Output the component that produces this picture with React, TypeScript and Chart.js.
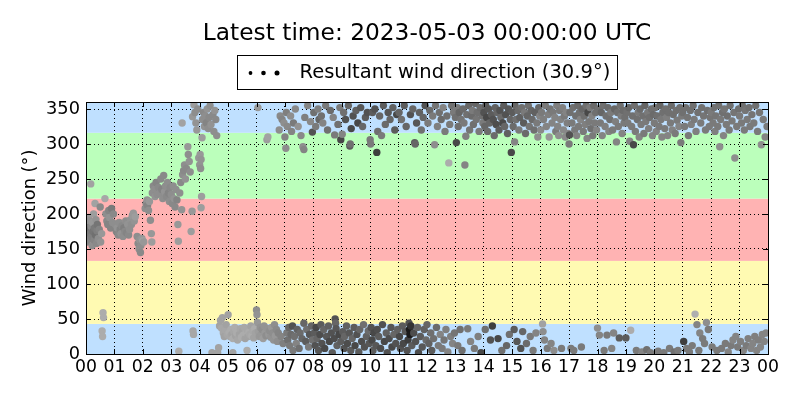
import React, { useEffect, useRef } from "react";
import { Chart, registerables } from "chart.js";

Chart.register(...registerables);

// Each point: [minute within hour, wind direction (deg), grey level of marker]
type P = [number, number, number];

const h00: P[] = [[1,175,130],[2,160,120],[3,185,110],[4,170,125],[5,195,140],[6,178,100],[7,165,120],[8,190,135],[9,172,110],[10,243,150],[11,182,125],[12,168,115],[13,155,130],[14,188,140],[15,175,105],[16,200,145],[17,163,120],[18,180,110],[19,215,150],[20,170,100],[21,192,135],[22,158,125],[23,176,115],[24,185,105],[26,165,130],[28,178,120],[30,210,125],[31,160,135],[33,172,140],[34,33,160],[35,25,160],[36,59,160],[37,52,160],[40,222,155],[42,200,130],[44,190,125],[46,185,120],[48,205,120],[50,195,135],[52,180,120],[54,208,110],[56,188,130],[58,200,125]];
const h01: P[] = [[2,185,130],[4,175,120],[6,180,135],[8,170,125],[10,188,130],[12,178,120],[14,172,135],[16,183,125],[18,168,130],[20,180,115],[22,175,125],[24,190,130],[26,173,120],[28,185,135],[30,170,125],[32,178,130],[34,192,135],[36,185,130],[38,198,140],[40,201,140],[42,190,135],[44,196,145],[48,168,130],[50,158,125],[52,150,130],[53,163,135],[55,145,125],[56,155,130],[58,165,140]];
const h02: P[] = [[0,162,150],[2,160,140],[5,208,130],[7,215,125],[9,220,135],[10,212,120],[12,205,130],[14,218,140],[16,191,130],[18,172,140],[19,160,145],[20,230,130],[22,240,125],[24,235,130],[26,225,135],[28,245,120],[30,228,130],[33,238,125],[36,230,130],[38,250,125],[40,235,120],[42,222,130],[44,255,125],[46,232,135],[48,240,130],[50,225,125],[52,245,130],[54,230,120],[56,218,130],[58,238,125]];
const h03: P[] = [[0,228,130],[2,215,125],[4,240,130],[6,222,135],[8,210,125],[10,235,130],[12,220,120],[14,185,140],[15,161,145],[16,4,160],[18,230,130],[20,245,125],[22,206,135],[23,330,150],[24,256,130],[26,262,125],[28,270,130],[30,250,135],[32,265,125],[35,296,140],[36,285,130],[38,275,135],[40,260,130],[42,175,145],[44,204,140],[45,339,140],[46,33,155],[47,28,155],[48,356,145],[50,345,130],[52,330,135],[54,320,140],[56,350,130],[58,280,140]];
const h04: P[] = [[0,270,135],[1,285,140],[2,265,130],[3,278,135],[3,209,145],[4,225,145],[5,309,145],[6,335,130],[8,345,125],[10,325,135],[12,340,130],[14,330,120],[16,350,135],[18,322,130],[20,338,125],[22,355,130],[24,328,135],[26,2,150],[28,342,125],[30,318,130],[32,348,135],[34,335,125],[36,312,130],[38,2,150],[40,9,150],[42,40,150],[44,48,150],[46,37,155],[48,52,150],[50,30,155],[52,25,150],[54,35,155],[56,42,150],[58,28,155]];
const h05: P[] = [[0,56,150],[2,30,160],[4,25,155],[6,35,160],[8,28,150],[10,22,160],[12,32,155],[14,38,160],[16,26,150],[18,30,160],[20,20,155],[22,34,160],[24,28,150],[26,36,155],[28,24,160],[30,32,150],[32,27,160],[34,38,155],[36,22,150],[38,30,160],[40,35,155],[42,25,150],[44,31,160],[46,28,155],[48,40,150],[50,26,160],[52,33,155],[54,23,150],[56,36,160],[58,30,150],[10,2,150],[40,5,160]];
const h06: P[] = [[0,63,130],[1,56,135],[2,45,140],[3,352,140],[4,32,145],[6,25,140],[8,38,135],[10,28,140],[12,35,130],[14,22,145],[16,40,135],[18,30,140],[20,26,130],[22,306,145],[24,310,150],[24,36,135],[26,28,140],[28,33,130],[30,24,135],[32,38,140],[34,30,130],[36,20,135],[38,42,130],[40,26,140],[42,35,125],[44,18,130],[46,30,120],[48,320,130],[50,340,125],[52,25,120],[54,335,120],[56,15,115],[58,330,130]];
const h07: P[] = [[0,310,120],[2,294,130],[3,345,115],[4,30,110],[5,325,125],[6,20,100],[8,38,90],[10,12,110],[12,340,130],[13,28,95],[14,318,120],[16,40,70],[17,5,110],[18,330,110],[20,25,100],[22,350,125],[24,15,120],[26,35,85],[28,325,135],[30,8,100],[32,30,95],[34,312,125],[36,22,90],[38,296,130],[40,292,120],[40,44,90],[42,338,115],[44,18,80],[46,35,100],[48,355,120],[50,10,110],[52,28,75],[54,332,125],[56,40,90],[58,317,70],[58,20,100]];
const h08: P[] = [[1,345,100],[2,30,80],[4,12,70],[5,325,110],[6,38,60],[8,22,90],[10,350,115],[11,5,75],[12,335,90],[14,28,65],[16,42,80],[17,340,100],[18,15,70],[20,330,120],[22,35,90],[24,8,60],[26,355,110],[28,25,75],[30,320,100],[32,40,85],[34,18,60],[36,348,95],[38,30,70],[40,2,80],[42,338,120],[44,22,65],[45,313,110],[46,50,70],[47,44,90],[48,36,75],[50,12,85],[52,328,100],[54,28,60],[56,352,110],[58,306,60],[58,18,80]];
const h09: P[] = [[1,314,120],[2,32,80],[4,345,100],[5,8,70],[6,25,90],[8,335,70],[10,40,85],[12,15,65],[14,355,90],[16,30,75],[17,297,80],[18,300,100],[19,5,80],[20,322,60],[22,22,90],[24,340,70],[26,38,80],[28,12,60],[30,348,85],[32,28,70],[34,330,60],[36,3,80],[38,35,90],[40,352,75],[42,18,65],[44,325,90],[46,42,100],[48,10,70],[50,338,80],[52,25,85],[54,345,70],[56,33,95],[58,15,75]];
const h10: P[] = [[0,306,110],[1,300,110],[2,38,70],[4,20,60],[5,345,80],[6,5,80],[8,30,60],[10,350,70],[12,12,75],[14,288,50],[15,35,65],[16,318,100],[18,25,80],[20,340,90],[22,8,65],[24,312,110],[26,42,70],[28,355,80],[30,18,60],[32,328,95],[34,30,85],[36,2,70],[38,345,75],[40,22,65],[42,335,90],[44,38,75],[46,10,60],[48,352,85],[50,28,90],[52,320,80],[54,15,70],[56,342,60],[58,35,85]];
const h11: P[] = [[1,345,90],[2,25,60],[4,8,70],[6,335,100],[8,40,80],[10,15,60],[12,355,80],[14,32,75],[16,325,90],[18,5,70],[20,20,50],[22,44,70],[23,35,15],[24,28,15],[25,342,70],[26,40,40],[28,12,80],[30,350,90],[32,30,65],[34,302,80],[35,300,90],[36,18,70],[38,330,75],[40,38,90],[42,2,65],[44,345,85],[46,25,80],[48,320,100],[50,10,75],[52,338,90],[54,35,85],[56,355,70],[58,20,95]];
const h12: P[] = [[0,42,90],[2,330,110],[4,15,85],[6,348,95],[8,30,100],[10,5,80],[12,340,110],[14,22,100],[16,299,130],[18,355,105],[20,38,95],[22,325,115],[24,12,110],[26,345,100],[28,28,120],[30,335,95],[32,8,110],[34,352,120],[36,20,105],[38,318,110],[40,35,115],[42,340,100],[44,3,120],[46,273,160],[48,328,110],[50,25,115],[52,355,100],[54,15,120],[56,345,110],[58,30,105]];
const h13: P[] = [[0,338,100],[2,302,60],[4,352,110],[5,12,110],[6,325,100],[8,345,90],[10,35,100],[12,335,105],[14,5,100],[16,350,95],[18,330,110],[20,270,120],[22,311,115],[24,342,100],[26,36,110],[28,355,90],[30,320,105],[32,18,120],[34,340,95],[36,348,110],[38,328,100],[40,8,110],[42,358,90],[44,335,105],[46,345,100],[48,25,115],[50,318,110],[52,352,95],[54,2,60],[56,340,100],[58,330,110]];
const h14: P[] = [[0,345,70],[2,325,90],[3,35,100],[4,355,80],[6,338,60],[8,318,95],[10,350,75],[12,330,90],[14,20,70],[16,342,80],[18,40,50],[20,335,70],[22,312,95],[24,352,85],[26,328,65],[28,345,90],[30,22,60],[32,320,80],[34,348,70],[36,338,95],[38,5,100],[40,330,60],[42,355,80],[44,325,90],[46,342,70],[48,12,90],[50,315,85],[52,350,75],[54,28,100],[56,335,90],[58,288,60]];
const h15: P[] = [[0,345,80],[2,325,95],[4,35,80],[5,303,120],[6,355,90],[8,335,100],[10,18,75],[12,348,95],[14,320,110],[16,338,85],[18,8,70],[20,352,100],[22,32,90],[24,330,80],[26,345,110],[28,315,95],[30,15,95],[32,340,90],[34,355,100],[36,325,105],[38,25,110],[40,348,90],[42,335,95],[44,5,110],[46,320,100],[48,345,85],[50,30,120],[52,330,110],[54,310,130],[56,352,90],[58,340,120]];
const h16: P[] = [[0,320,125],[2,345,110],[4,43,150],[5,32,130],[6,335,115],[8,20,120],[10,355,110],[12,325,120],[14,8,110],[16,342,115],[18,310,140],[20,350,105],[22,15,120],[24,330,120],[26,345,110],[28,5,130],[30,338,120],[32,318,110],[34,355,115],[36,325,120],[38,312,130],[40,348,110],[42,335,120],[44,8,110],[46,352,115],[48,320,125],[50,340,110],[52,310,125],[54,345,120],[56,330,115],[58,315,125]];
const h17: P[] = [[0,300,110],[1,313,70],[2,345,100],[4,8,110],[6,330,110],[8,352,100],[10,5,110],[12,320,110],[14,340,100],[16,312,120],[18,355,95],[20,325,110],[22,345,100],[24,335,120],[26,10,110],[28,350,90],[30,318,110],[32,340,100],[34,328,115],[36,355,100],[38,308,120],[40,345,60],[42,332,110],[44,352,110],[46,322,100],[48,340,120],[50,312,110],[52,355,95],[54,330,110],[56,345,100],[58,320,120]];
const h18: P[] = [[0,37,130],[2,350,100],[4,27,120],[6,330,110],[8,345,90],[10,312,120],[12,355,100],[14,5,110],[16,325,115],[18,340,100],[20,27,110],[22,352,95],[24,318,120],[26,335,100],[28,345,110],[30,8,120],[32,320,110],[34,30,120],[36,350,90],[38,332,115],[40,303,120],[42,345,100],[44,325,110],[46,23,80],[48,355,100],[50,340,110],[52,315,120],[54,348,95],[56,330,110],[58,338,100]];
const h19: P[] = [[0,23,80],[2,345,100],[4,330,110],[6,352,90],[8,304,120],[10,34,160],[12,325,110],[14,340,100],[16,299,60],[18,355,100],[20,318,110],[22,5,110],[24,335,100],[26,345,110],[28,310,120],[30,350,95],[32,328,110],[34,3,120],[36,340,100],[38,315,110],[40,355,90],[42,332,110],[44,6,100],[46,345,110],[48,322,115],[50,338,100],[52,2,110],[54,350,100],[56,312,120],[58,342,95]];
const h20: P[] = [[0,330,110],[2,352,100],[4,318,120],[6,340,100],[8,4,110],[10,325,110],[12,355,90],[14,335,110],[16,310,120],[18,345,100],[20,2,110],[22,322,110],[24,350,100],[26,338,115],[28,312,120],[30,345,100],[32,8,110],[34,330,110],[36,355,95],[38,320,120],[40,342,100],[42,3,100],[44,315,110],[46,348,100],[48,334,110],[50,5,110],[52,325,120],[54,352,100],[56,302,110],[58,340,110]];
const h21: P[] = [[0,345,100],[2,18,50],[4,325,110],[6,352,100],[8,8,110],[10,338,105],[12,312,110],[14,3,110],[16,348,100],[18,328,115],[20,12,110],[22,355,100],[24,335,110],[26,57,165],[28,318,115],[30,42,120],[32,345,100],[34,5,110],[36,30,120],[38,330,110],[40,352,100],[42,22,110],[44,340,105],[46,15,110],[48,320,110],[50,45,130],[52,348,100],[54,35,110],[56,325,110],[58,338,105]];
const h22: P[] = [[0,345,110],[2,10,110],[4,330,110],[6,352,100],[8,318,115],[10,340,105],[12,5,110],[14,325,110],[16,355,100],[18,296,130],[20,335,110],[22,8,110],[24,345,100],[26,312,120],[28,350,105],[30,15,110],[32,328,110],[34,340,100],[36,3,120],[38,320,110],[40,355,100],[42,12,110],[44,333,110],[46,20,120],[48,345,105],[50,280,130],[52,25,120],[54,325,110],[56,10,110],[58,350,100]];
const h23: P[] = [[0,340,110],[2,18,115],[4,330,110],[6,355,100],[8,5,120],[10,320,110],[12,348,105],[14,12,110],[16,335,110],[18,22,115],[20,352,100],[22,325,110],[24,8,120],[26,342,105],[28,15,120],[30,330,110],[32,25,115],[34,355,100],[36,5,120],[38,318,110],[40,20,115],[42,345,105],[44,10,120],[46,299,130],[48,28,120],[50,335,110],[52,18,120],[54,310,120],[56,30,120],[58,325,110]];

const HOURS: P[][] = [h00,h01,h02,h03,h04,h05,h06,h07,h08,h09,h10,h11,h12,h13,h14,h15,h16,h17,h18,h19,h20,h21,h22,h23];

const X_TICK_LABELS = ["00","01","02","03","04","05","06","07","08","09","10","11","12","13","14","15","16","17","18","19","20","21","22","23","00"];
const Y_TICKS = [0, 50, 100, 150, 200, 250, 300, 350];
const BAND_EDGES = [0, 43, 133, 222, 316, 360];
const BAND_COLORS = ["#bfe0ff", "#fffab2", "#ffb3b3", "#bbffbb", "#bfe0ff"];

const TITLE = "Latest time: 2023-05-03 00:00:00 UTC";
const LEGEND_LABEL = "Resultant wind direction (30.9°)";
const Y_LABEL = "Wind direction (°)";

const FONT = "'DejaVu Sans', 'Liberation Sans', sans-serif";

const decorPlugin = {
  id: "decor",
  beforeDraw(chart: any) {
    const { ctx, chartArea } = chart;
    const y = chart.scales.y;
    ctx.save();
    for (let i = 0; i < BAND_COLORS.length; i++) {
      const top = y.getPixelForValue(BAND_EDGES[i + 1]);
      const bot = y.getPixelForValue(BAND_EDGES[i]);
      ctx.fillStyle = BAND_COLORS[i];
      ctx.fillRect(chartArea.left, top, chartArea.right - chartArea.left, bot - top);
    }
    ctx.restore();
  },
  afterDraw(chart: any) {
    const { ctx, chartArea } = chart;
    const xs = chart.scales.x;
    const ys = chart.scales.y;
    const { left, right, top, bottom } = chartArea;
    ctx.save();
    ctx.strokeStyle = "#000";
    ctx.lineWidth = 1;
    ctx.beginPath();
    const TL = 5;
    Y_TICKS.forEach((v) => {
      const py = Math.round(ys.getPixelForValue(v)) + 0.5;
      ctx.moveTo(left, py); ctx.lineTo(left + TL, py);
      ctx.moveTo(right, py); ctx.lineTo(right - TL, py);
    });
    X_TICK_LABELS.forEach((_, i) => {
      const px = Math.round(xs.getPixelForValue(i)) + 0.5;
      ctx.moveTo(px, bottom); ctx.lineTo(px, bottom - TL);
      ctx.moveTo(px, top); ctx.lineTo(px, top + TL);
    });
    ctx.stroke();
    ctx.strokeRect(Math.round(left) + 0.5, Math.round(top) + 0.5, Math.round(right - left), Math.round(bottom - top));

    // title
    const cx = (left + right) / 2;
    ctx.fillStyle = "#000";
    ctx.font = `23.3px ${FONT}`;
    ctx.textAlign = "center";
    ctx.textBaseline = "middle";
    ctx.fillText(TITLE, cx, 34);

    // legend
    ctx.font = `19.5px ${FONT}`;
    const tw = ctx.measureText(LEGEND_LABEL).width;
    const boxW = Math.round(62 + tw + 7);
    const bx = Math.round(cx - boxW / 2) + 0.5;
    const by = 55.5;
    const bh = 34;
    ctx.fillStyle = "#fff";
    ctx.fillRect(bx, by, boxW, bh);
    ctx.strokeRect(bx, by, boxW, bh);
    ctx.fillStyle = "#000";
    [[13, 1.9], [26, 2.3], [39.5, 2.5]].forEach(([dx, r]) => {
      ctx.beginPath();
      ctx.arc(bx + dx, 73, r, 0, Math.PI * 2);
      ctx.fill();
    });
    ctx.textAlign = "left";
    ctx.fillText(LEGEND_LABEL, bx + 62, 72.5);

    // y-axis label
    ctx.font = `17.8px ${FONT}`;
    ctx.translate(30, (top + bottom) / 2);
    ctx.rotate(-Math.PI / 2);
    ctx.textAlign = "center";
    ctx.fillText(Y_LABEL, 0, 0);
    ctx.restore();
  },
};

export default function App() {
  const ref = useRef<HTMLCanvasElement>(null);
  useEffect(() => {
    document.body.style.margin = "0";
    const points: { x: number; y: number }[] = [];
    const colors: string[] = [];
    HOURS.forEach((arr, h) => {
      arr.forEach(([m, d, g]) => {
        points.push({ x: h + m / 60, y: d });
        const v = Math.min(175, g + 12);
        colors.push(`rgb(${v},${v},${v})`);
      });
    });
    const chart = new Chart(ref.current!, {
      type: "scatter",
      data: {
        datasets: [
          {
            label: LEGEND_LABEL,
            data: points,
            pointRadius: 3.7,
            pointHoverRadius: 3.7,
            pointBorderWidth: 0,
            pointBackgroundColor: colors,
            pointBorderColor: colors,
            clip: 0,
          } as any,
        ],
      },
      options: {
        responsive: false,
        animation: false,
        devicePixelRatio: 1,
        layout: { padding: { top: 102, right: 32, left: 0, bottom: 0 } },
        plugins: { legend: { display: false }, title: { display: false }, tooltip: { enabled: false } },
        events: [],
        scales: {
          x: {
            type: "linear",
            min: 0,
            max: 24,
            afterFit: (s: any) => { s.height = 46; },
            ticks: {
              stepSize: 1,
              autoSkip: false,
              maxRotation: 0,
              includeBounds: false,
              padding: 3,
              color: "#000",
              font: { family: FONT, size: 17.3 },
              callback: (v: any) => X_TICK_LABELS[Math.round(Number(v))],
            },
            grid: { color: "#000", lineWidth: 1, drawTicks: false },
            border: { display: false, dash: [1, 3] },
          },
          y: {
            min: 0,
            max: 360,
            afterFit: (s: any) => { s.width = 86; },
            ticks: {
              stepSize: 50,
              includeBounds: false,
              padding: 6,
              color: "#000",
              font: { family: FONT, size: 17.8 },
            },
            grid: { color: "#000", lineWidth: 1, drawTicks: false },
            border: { display: false, dash: [1, 3] },
          },
        },
      },
      plugins: [decorPlugin],
    });
    return () => chart.destroy();
  }, []);
  return (
    <div style={{ position: "absolute", left: 0, top: 0, width: 800, height: 400 }}>
      <canvas ref={ref} width={800} height={400} />
    </div>
  );
}
